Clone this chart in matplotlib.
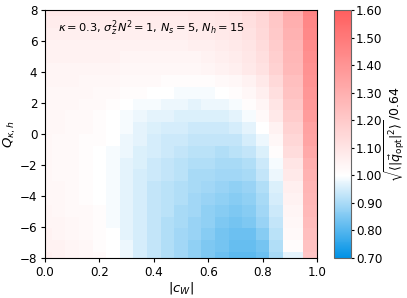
import numpy as np
import matplotlib
matplotlib.use("Agg")
import matplotlib.pyplot as plt
from matplotlib.colors import LinearSegmentedColormap

# grille |c_W| (pas de 0.95) et Q_{kappa,h}
c_w = [0.0, 0.05, 0.1, 0.15, 0.2, 0.25, 0.3, 0.35, 0.4, 0.45,
       0.5, 0.55, 0.6, 0.65, 0.7, 0.75, 0.8, 0.85, 0.9, 1.0]
q_kh = np.linspace(-8, 8, 22)

# valeurs, de la ligne du haut (Q=8) vers le bas (Q=-8)
rows_top_down = [
    [1.08, 1.08, 1.08, 1.08, 1.08, 1.08, 1.08, 1.08, 1.08, 1.08, 1.08, 1.09, 1.09, 1.10, 1.11, 1.13, 1.16, 1.22, 1.31, 1.46],
    [1.07, 1.07, 1.07, 1.07, 1.07, 1.07, 1.07, 1.07, 1.07, 1.07, 1.07, 1.08, 1.08, 1.09, 1.10, 1.12, 1.15, 1.21, 1.30, 1.45],
    [1.06, 1.06, 1.06, 1.06, 1.06, 1.06, 1.06, 1.06, 1.06, 1.06, 1.06, 1.07, 1.07, 1.08, 1.09, 1.11, 1.14, 1.20, 1.29, 1.44],
    [1.05, 1.05, 1.05, 1.05, 1.05, 1.05, 1.05, 1.05, 1.05, 1.05, 1.05, 1.06, 1.06, 1.07, 1.08, 1.10, 1.13, 1.19, 1.28, 1.43],
    [1.05, 1.05, 1.05, 1.05, 1.05, 1.05, 1.04, 1.04, 1.04, 1.04, 1.04, 1.04, 1.05, 1.06, 1.07, 1.09, 1.12, 1.18, 1.27, 1.42],
    [1.04, 1.04, 1.04, 1.04, 1.04, 1.04, 1.03, 1.03, 1.03, 1.03, 1.03, 1.03, 1.04, 1.05, 1.06, 1.08, 1.11, 1.17, 1.26, 1.41],
    [1.04, 1.04, 1.04, 1.03, 1.03, 1.03, 1.02, 1.02, 1.02, 1.01, 1.01, 1.01, 1.01, 1.02, 1.03, 1.05, 1.08, 1.14, 1.24, 1.40],
    [1.03, 1.03, 1.03, 1.03, 1.02, 1.02, 1.01, 1.01, 1.00, 1.00, 0.99, 0.99, 0.99, 1.00, 1.01, 1.03, 1.06, 1.12, 1.23, 1.39],
    [1.03, 1.03, 1.03, 1.02, 1.02, 1.01, 1.00, 0.99, 0.99, 0.98, 0.98, 0.97, 0.98, 0.98, 0.99, 1.01, 1.04, 1.10, 1.21, 1.38],
    [1.03, 1.03, 1.02, 1.02, 1.01, 1.00, 0.99, 0.98, 0.97, 0.97, 0.96, 0.96, 0.96, 0.96, 0.97, 0.99, 1.02, 1.08, 1.19, 1.37],
    [1.03, 1.03, 1.02, 1.02, 1.01, 1.00, 0.99, 0.97, 0.96, 0.95, 0.95, 0.94, 0.94, 0.94, 0.95, 0.97, 1.00, 1.05, 1.17, 1.35],
    [1.03, 1.02, 1.02, 1.01, 1.01, 1.00, 0.98, 0.97, 0.95, 0.94, 0.94, 0.93, 0.93, 0.93, 0.93, 0.95, 0.98, 1.03, 1.15, 1.34],
    [1.03, 1.02, 1.02, 1.01, 1.00, 0.99, 0.98, 0.96, 0.95, 0.94, 0.93, 0.92, 0.92, 0.91, 0.92, 0.93, 0.96, 1.01, 1.13, 1.32],
    [1.03, 1.02, 1.02, 1.01, 1.00, 0.99, 0.97, 0.96, 0.94, 0.93, 0.92, 0.91, 0.91, 0.90, 0.90, 0.91, 0.94, 0.99, 1.10, 1.30],
    [1.03, 1.02, 1.02, 1.01, 1.00, 0.99, 0.97, 0.95, 0.94, 0.93, 0.92, 0.90, 0.90, 0.89, 0.89, 0.90, 0.93, 0.98, 1.08, 1.29],
    [1.03, 1.03, 1.02, 1.01, 1.00, 0.99, 0.97, 0.95, 0.93, 0.92, 0.91, 0.90, 0.89, 0.88, 0.87, 0.88, 0.91, 0.96, 1.06, 1.28],
    [1.03, 1.03, 1.02, 1.01, 1.00, 0.99, 0.97, 0.95, 0.93, 0.92, 0.91, 0.89, 0.88, 0.87, 0.86, 0.87, 0.90, 0.95, 1.05, 1.27],
    [1.04, 1.03, 1.02, 1.02, 1.01, 0.99, 0.97, 0.95, 0.93, 0.92, 0.90, 0.89, 0.87, 0.86, 0.85, 0.86, 0.89, 0.94, 1.04, 1.26],
    [1.04, 1.04, 1.03, 1.02, 1.01, 0.99, 0.97, 0.95, 0.93, 0.91, 0.90, 0.88, 0.87, 0.85, 0.84, 0.85, 0.88, 0.93, 1.03, 1.25],
    [1.05, 1.04, 1.03, 1.02, 1.01, 1.00, 0.97, 0.95, 0.93, 0.91, 0.89, 0.88, 0.86, 0.84, 0.83, 0.83, 0.86, 0.92, 1.02, 1.24],
    [1.05, 1.05, 1.04, 1.03, 1.01, 1.00, 0.98, 0.95, 0.93, 0.91, 0.89, 0.87, 0.85, 0.84, 0.82, 0.82, 0.84, 0.91, 1.01, 1.23],
    [1.06, 1.05, 1.04, 1.03, 1.02, 1.00, 0.98, 0.95, 0.93, 0.91, 0.89, 0.87, 0.85, 0.83, 0.81, 0.81, 0.83, 0.90, 0.97, 1.22],
]
q_opt = np.array(rows_top_down[::-1])

cbar_ticks = [0.70, 0.80, 0.90, 1.00, 1.10, 1.20, 1.30, 1.40, 1.50, 1.60]

# bleu -> blanc (a 1.0) -> rouge
cmap = LinearSegmentedColormap.from_list(
    "bwr_custom", [(0.0, "#0092e6"), (1 / 3, "#ffffff"), (1.0, "#ff5f5f")])

plt.rcParams["font.size"] = 8.6
plt.rcParams["xtick.major.size"] = 3
plt.rcParams["ytick.major.size"] = 3
plt.rcParams["xtick.major.pad"] = 2.5
plt.rcParams["ytick.major.pad"] = 2.5
fig = plt.figure(figsize=(4.07, 2.98), dpi=100)
ax = fig.add_axes([45 / 407, 40 / 298, 272 / 407, 248 / 298])
cax = fig.add_axes([334 / 407, 40 / 298, 16.5 / 407, 248 / 298])

mesh = ax.pcolormesh(c_w, q_kh, q_opt, cmap=cmap, vmin=0.7, vmax=1.6,
                     shading="nearest")
ax.set_xlim(0, 1)
ax.set_ylim(-8, 8)
ax.set_xlabel(r"$|c_W|$", fontsize=9.5, labelpad=1)
ax.set_ylabel(r"$Q_{\kappa,h}$", fontsize=9.5, labelpad=1)
ax.text(0.048, 0.965, r"$\kappa=0.3$, $\sigma_z^2N^2=1$, $N_s=5$, $N_h=15$",
        transform=ax.transAxes, ha="left", va="top", fontsize=8.2)

cb = fig.colorbar(mesh, cax=cax, ticks=cbar_ticks, format="%.2f")
cb.ax.tick_params(length=2, pad=2)
cb.set_label(r"$\sqrt{\langle|\vec{q}_{\rm opt}|^2\rangle}\,/0.64$",
             fontsize=9, labelpad=0)
cb.outline.set_edgecolor("0.4")

fig.savefig("out.png", dpi=100)
